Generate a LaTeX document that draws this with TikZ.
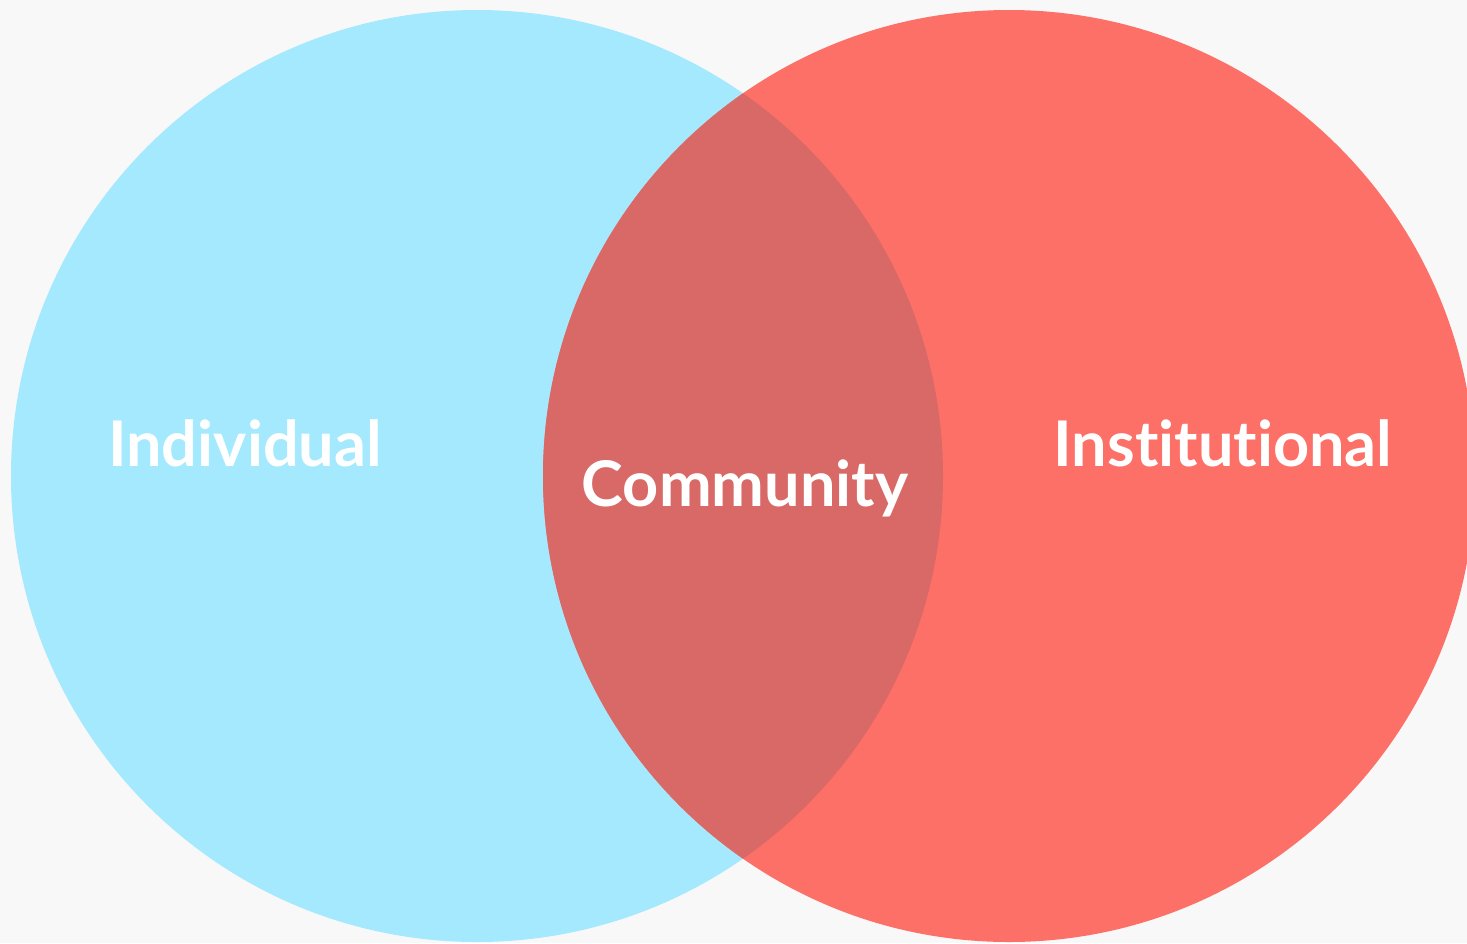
\documentclass[tikz,border=0pt]{standalone}
\usepackage{fontspec}
\setmainfont{Lato}[UprightFont=* Bold,Ligatures={NoCommon},RawFeature={-liga;-dlig}]
\definecolor{bgc}{HTML}{F8F8F8}
\definecolor{cyanc}{HTML}{A4E9FD}
\definecolor{redc}{HTML}{FC7067}
\definecolor{overc}{HTML}{D86966}
\begin{document}
\begin{tikzpicture}[x=1pt,y=-1pt,
  lbl/.style={text=white,font=\fontsize{63}{63}\selectfont,inner sep=0pt}]
\fill[bgc] (0,0) rectangle (1467,943);
\useasboundingbox (0,0) rectangle (1467,943);
\begin{scope}
\clip (0,0) rectangle (1467,943);
\fill[cyanc] (477,476) circle[radius=466];
\fill[redc] (1009,476) circle[radius=466];
\begin{scope}
\clip (477,476) circle[radius=466];
\fill[overc] (1009,476) circle[radius=466];
\end{scope}
\end{scope}
\node[lbl] (ind) at (245,443) {Individual};
\node[lbl] (com) at (745,488) {Community};
\node[lbl] (ins) at (1223,443) {Institutional};
\end{tikzpicture}
\end{document}
